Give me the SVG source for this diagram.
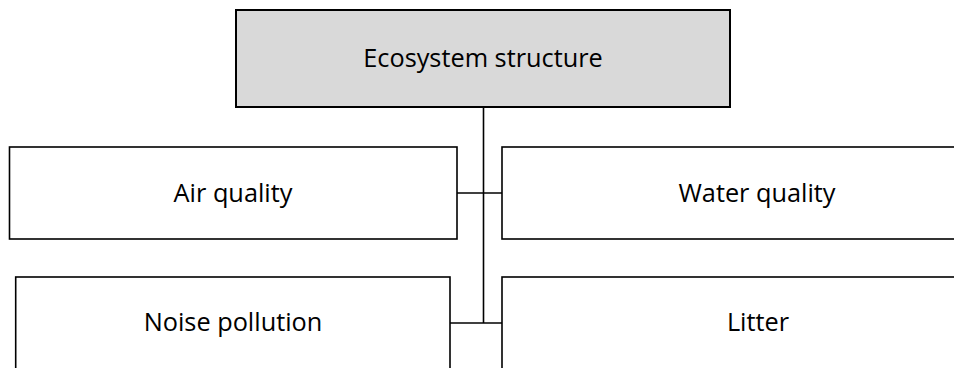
<svg xmlns="http://www.w3.org/2000/svg" width="954" height="368" viewBox="0 0 954 368">
<style>
.box{fill:#ffffff;stroke:#000000;stroke-width:1.6}
.root{fill:#d9d9d9;stroke:#000000;stroke-width:2}
.lbl{font-family:"Open Sans","Liberation Sans",sans-serif;font-size:25.3px;fill:#000000;text-anchor:middle}
.con{stroke:#000000;stroke-width:1.6;fill:none}
</style>
<rect width="954" height="368" fill="#ffffff"/>
<g id="connectors">
<line class="con" x1="483.5" y1="107" x2="483.5" y2="323"/>
<line class="con" x1="457" y1="193" x2="502" y2="193"/>
<line class="con" x1="450" y1="323" x2="502" y2="323"/>
</g>
<g id="node-ecosystem">
<rect class="root" x="236" y="10" width="494" height="97"/>
<text class="lbl" x="483" y="67">Ecosystem structure</text>
</g>
<g id="node-air">
<rect class="box" x="9.5" y="147" width="447.5" height="92"/>
<text class="lbl" x="233" y="202">Air quality</text>
</g>
<g id="node-water">
<rect class="box" x="502" y="147" width="500" height="92"/>
<text class="lbl" x="757" y="202">Water quality</text>
</g>
<g id="node-noise">
<rect class="box" x="15.7" y="277" width="434.3" height="110"/>
<text class="lbl" x="233" y="331">Noise pollution</text>
</g>
<g id="node-litter">
<rect class="box" x="502" y="277" width="500" height="110"/>
<text class="lbl" x="758" y="331">Litter</text>
</g>
</svg>
